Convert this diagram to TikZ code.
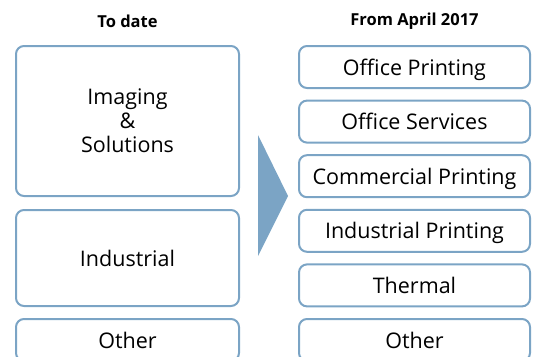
\documentclass[tikz,border=0pt]{standalone}
\usepackage{fontspec}
\setmainfont{Open Sans}
\usepackage{xcolor}
\usepackage{tikz}
\usetikzlibrary{positioning}

\definecolor{segblue}{HTML}{7BA4C5}

\begin{document}
\begin{tikzpicture}[
    x=1pt, y=-1pt,
    header/.style={font=\fontsize{16.5}{18}\selectfont\bfseries},
    oldbox/.style={rectangle, draw=segblue, line width=2pt, rounded corners=8pt, minimum width=223pt, align=center, text depth=0pt, font=\fontsize{21.5}{24}\selectfont},
    newbox/.style={rectangle, draw=segblue, line width=2pt, rounded corners=8pt, minimum width=231pt, minimum height=42pt, text depth=0pt, font=\fontsize{21.5}{24}\selectfont}
]
\useasboundingbox (0,0) rectangle (538,356);
\node[header](todate) at (127.5,21){To date};
\node[header](fromapril) at (414.5,21){From April 2017};
% left column
\node[oldbox, minimum height=150pt, text depth=-6pt](imaging) at (127.5,121){Imaging\\\&\\Solutions};
\node[oldbox, minimum height=96pt](industrial) at (127.5,258){Industrial};
\node[oldbox, minimum height=42pt](otherold) at (127.5,340){Other};
% right column
\node[newbox](officeprint) at (414.5,67){Office Printing};
\node[newbox](officeserv)[below = 10.6pt of officeprint]{Office Services};
\node[newbox](commercial)[below = 10.6pt of officeserv]{Commercial Printing};
\node[newbox](indprint)[below = 10.6pt of commercial]{Industrial Printing};
\node[newbox](thermal)[below = 10.6pt of indprint]{Thermal};
\node[newbox](othernew)[below = 10.6pt of thermal]{Other};
% arrow
\fill[segblue] (258,135) -- (288,196) -- (258,256) -- cycle;
\end{tikzpicture}
\end{document}
